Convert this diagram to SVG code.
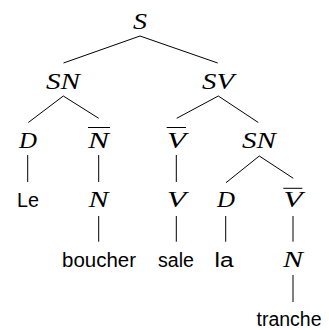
<svg xmlns="http://www.w3.org/2000/svg" width="329" height="330" viewBox="0 0 329 330">
<style>
.m{font-family:"Liberation Serif","Times New Roman",serif;font-style:italic;font-size:23.5px;text-anchor:middle;fill:#000}
.w{font-family:"Liberation Sans",Arial,sans-serif;font-size:20px;text-anchor:middle;fill:#000}
.e{stroke:#000;stroke-width:1;fill:none}
</style>
<rect width="329" height="330" fill="#fff"/>
<g id="connectors" class="e">
<line x1="140" y1="36" x2="63.5" y2="63"/>
<line x1="140" y1="36" x2="217.7" y2="63"/>
<line x1="63.3" y1="96" x2="28.3" y2="122.5"/>
<line x1="63.3" y1="96" x2="98.7" y2="118.3"/>
<line x1="218.3" y1="96" x2="176.7" y2="118.3"/>
<line x1="218.3" y1="96" x2="258.3" y2="122.5"/>
<line x1="27.7" y1="155" x2="27.7" y2="182"/>
<line x1="98.7" y1="155" x2="98.7" y2="182"/>
<line x1="176.3" y1="155" x2="176.3" y2="182"/>
<line x1="259.3" y1="156" x2="226" y2="182.7"/>
<line x1="259.3" y1="156" x2="293.3" y2="178.3"/>
<line x1="98.7" y1="216" x2="98.7" y2="241.7"/>
<line x1="176.3" y1="216" x2="176.3" y2="241.7"/>
<line x1="225.7" y1="216" x2="225.7" y2="241.7"/>
<line x1="293" y1="216" x2="293" y2="241.7"/>
<line x1="293" y1="275" x2="293" y2="302"/>
</g>
<g id="S"><text class="m" x="140" y="28.5" textLength="14" lengthAdjust="spacingAndGlyphs">S</text></g>
<g id="SN"><text class="m" x="63" y="88.5" textLength="34" lengthAdjust="spacingAndGlyphs">SN</text></g>
<g id="SV"><text class="m" x="218" y="88.5" textLength="32" lengthAdjust="spacingAndGlyphs">SV</text></g>
<g id="D1"><text class="m" x="28" y="148" textLength="18" lengthAdjust="spacingAndGlyphs">D</text></g>
<g id="Nbar"><text class="m" x="98.5" y="148" textLength="21" lengthAdjust="spacingAndGlyphs">N</text><line class="e" x1="88" y1="127.5" x2="110" y2="127.5"/></g>
<g id="Vbar1"><text class="m" x="176.5" y="148" textLength="19" lengthAdjust="spacingAndGlyphs">V</text><line class="e" x1="166.7" y1="127.5" x2="186" y2="127.5"/></g>
<g id="SN2"><text class="m" x="259" y="148" textLength="34" lengthAdjust="spacingAndGlyphs">SN</text></g>
<g id="Le"><text class="w" x="28" y="206.5" textLength="22" lengthAdjust="spacingAndGlyphs">Le</text></g>
<g id="N1"><text class="m" x="98.5" y="207" textLength="20" lengthAdjust="spacingAndGlyphs">N</text></g>
<g id="V1"><text class="m" x="176.5" y="207" textLength="19" lengthAdjust="spacingAndGlyphs">V</text></g>
<g id="D2"><text class="m" x="226" y="207" textLength="18" lengthAdjust="spacingAndGlyphs">D</text></g>
<g id="Vbar2"><text class="m" x="293" y="207" textLength="19" lengthAdjust="spacingAndGlyphs">V</text><line class="e" x1="283.3" y1="188.3" x2="302.3" y2="188.3"/></g>
<g id="boucher"><text class="w" x="99" y="266.5" textLength="74" lengthAdjust="spacingAndGlyphs">boucher</text></g>
<g id="sale"><text class="w" x="176" y="266.5" textLength="36" lengthAdjust="spacingAndGlyphs">sale</text></g>
<g id="la"><text class="w" x="224" y="266.5" textLength="19" lengthAdjust="spacingAndGlyphs">la</text></g>
<g id="N2"><text class="m" x="293" y="266.5" textLength="20" lengthAdjust="spacingAndGlyphs">N</text></g>
<g id="tranche"><text class="w" x="289" y="325.5" textLength="65" lengthAdjust="spacingAndGlyphs">tranche</text></g>
</svg>
